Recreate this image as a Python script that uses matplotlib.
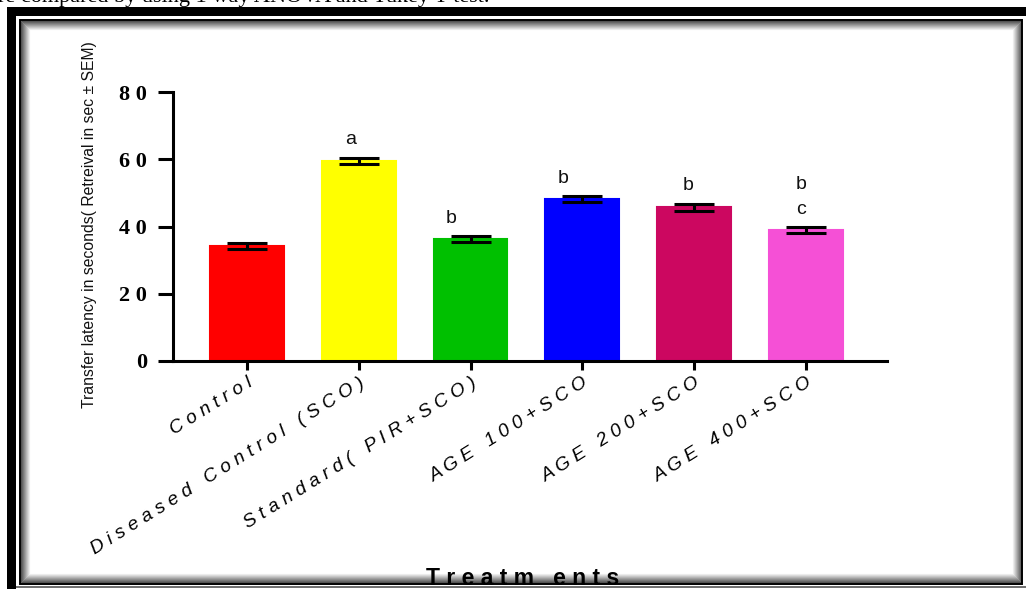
import matplotlib
matplotlib.use("Agg")
import matplotlib.pyplot as plt
from matplotlib.patches import Rectangle
from matplotlib.lines import Line2D

# ---- data ----
groups = ["Control", "Diseased Control (SCO)", "Standard( PIR+SCO)",
          "AGE 100+SCO", "AGE 200+SCO", "AGE 400+SCO"]
means = [34.3, 59.6, 36.2, 48.1, 45.7, 39.0]
sems = [0.9, 0.9, 0.9, 0.9, 1.1, 0.8]
letters = [[], ["a"], ["b"], ["b"], ["b"], ["c", "b"]]
bar_colors = ["#FF0000", "#FFFF00", "#00C000", "#0000FF", "#CC0760", "#F550D6"]
ytick_values = [0, 20, 40, 60, 80]
ytick_labels = ["0", "2 0", "4 0", "6 0", "8 0"]
ylabel = "Transfer latency in seconds( Retreival in sec \u00b1 SEM)"
xlabel = "Treatm ents"
caption = "re compared by using 1 way ANOVA and Tukey T-test."

W, H = 1026, 589


def spaced(s):
    return " ".join(s)


fig = plt.figure(figsize=(W / 100, H / 100), dpi=100)
fig.patch.set_facecolor("white")

# ---- bar chart ----
ax = fig.add_axes([173 / W, (H - 361) / H, (887 - 173) / W, (361 - 92) / H])
x = list(range(len(groups)))
ax.bar(x, means, width=0.66, color=bar_colors, edgecolor=bar_colors,
       linewidth=1.5, zorder=2)
ax.errorbar(x, means, yerr=sems, fmt="none", ecolor="black",
            elinewidth=2.2, capsize=14.5, capthick=2.2, zorder=3)

letter_dx = [0, -0.07, -0.17, -0.17, -0.05, -0.04]
for i, labs in enumerate(letters):
    base = means[i] + sems[i] + 5.4
    for k, lab in enumerate(labs):
        ax.text(i + letter_dx[i], base + 7.2 * k, lab, ha="center", va="center",
                fontsize=14, family="Liberation Sans", color="#111111")

ax.set_xlim(-0.662, 5.725)
ax.set_ylim(0, 80)
for side in ("top", "right"):
    ax.spines[side].set_visible(False)
for side in ("left", "bottom"):
    ax.spines[side].set_linewidth(2.2)
ax.set_yticks(ytick_values)
ax.set_yticklabels(ytick_labels, family="Liberation Serif", fontweight="bold",
                   fontsize=16)
ax.tick_params(axis="y", direction="out", length=10.8, width=2.2, pad=8)
ax.set_xticks(x)
ax.set_xticklabels([spaced(g) for g in groups], rotation=32, ha="right",
                   rotation_mode="anchor", family="Liberation Sans",
                   style="italic", fontsize=13.8)
ax.tick_params(axis="x", direction="out", length=6.5, width=2.2, pad=3)

# ---- page frame, captions and axis titles ----
page = fig.add_axes([0, 0, 1, 1], zorder=10)
page.set_xlim(0, W)
page.set_ylim(H, 0)
page.axis("off")
page.patch.set_alpha(0)

page.text(-2, 2, caption, ha="left", va="baseline", family="Liberation Serif",
          fontsize=16, color="black")

page.text(90, 225, ylabel, rotation=90, ha="center", va="center",
          family="Liberation Sans", fontsize=11.3, color="#111111")
page.text(523, 567, spaced(xlabel), ha="center", va="top",
          family="Liberation Sans", fontweight="bold", fontsize=16.5,
          color="black")

# soft inner shadow along the panel border
n_shade = 9
for i in range(n_shade):
    g = 0.25 + 0.75 * (i + 1) / (n_shade + 1)
    page.add_patch(Rectangle((21 + i, 21 + i), 1000 - 2 * i, 561 - 2 * i,
                             fill=False, edgecolor=(g, g, g), lw=0.8))
page.add_patch(Rectangle((19.5, 19.5), 1002, 564, fill=False,
                         edgecolor="black", lw=1.4))
# white strip below the panel clips the bottom title
page.add_patch(Rectangle((16, 584.5), W, 10, facecolor="white",
                         edgecolor="none", zorder=5))
page.add_line(Line2D([16, W], [587, 587], color="#555555", lw=1.2, zorder=6))
# thick outer frame on the top and left
page.add_patch(Rectangle((7, 7), W, 9, facecolor="black", edgecolor="none",
                         zorder=6))
page.add_patch(Rectangle((7, 7), 9, H, facecolor="black", edgecolor="none",
                         zorder=6))

fig.savefig("out.png", dpi=100, facecolor="white")
